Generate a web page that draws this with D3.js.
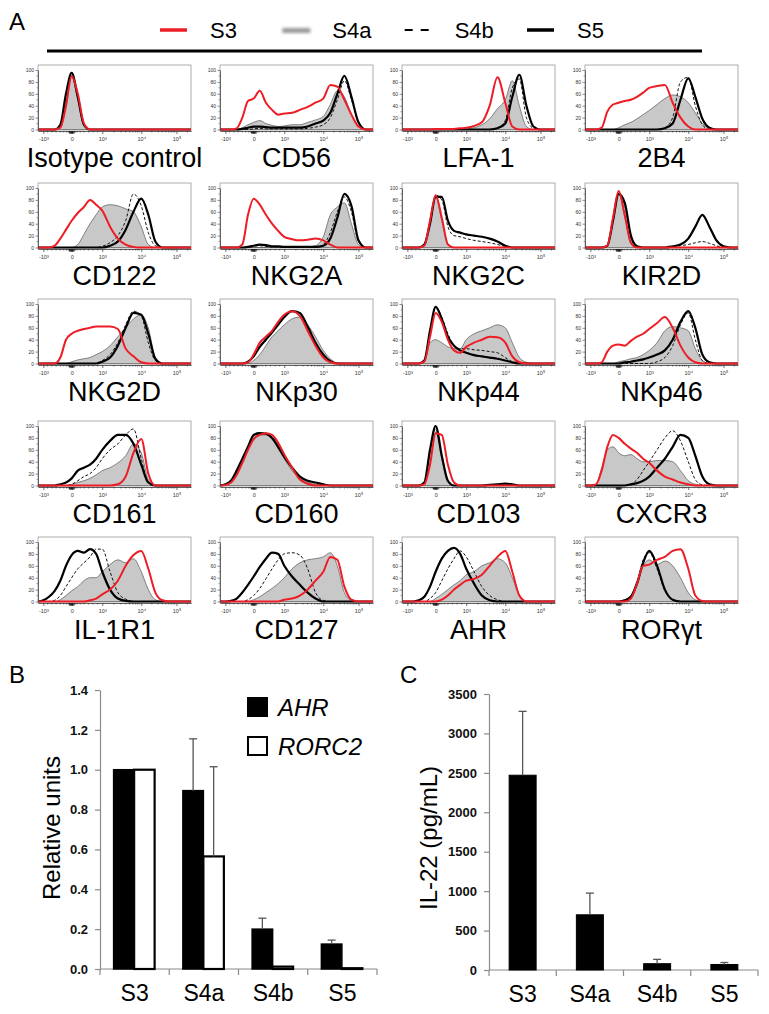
<!DOCTYPE html>
<html><head><meta charset="utf-8">
<script src="https://cdn.jsdelivr.net/npm/d3@7"></script>
<style>body{margin:0;background:#fff}svg{display:block}</style>
</head><body>
<svg id="fig" width="769" height="1014"></svg>
<script>
// ---------------- DATA ----------------
const groups = ["S3","S4a","S4b","S5"];
const markers = ["Isotype control","CD56","LFA-1","2B4","CD122","NKG2A","NKG2C","KIR2D",
  "NKG2D","NKp30","NKp44","NKp46","CD161","CD160","CD103","CXCR3","IL-1R1","CD127","AHR","RORγt"];
// display position (u) of each histogram bin: u=0 -> -10^3, 1 -> 0, 2 -> 10^3, 3 -> 10^4, 4 -> 10^5
const gridU = [-0.2,0,0.2,0.4,0.6,0.8,1.0,1.2,1.4,1.6,1.8,2.0,2.2,2.4,2.6,2.8,3.0,3.2,3.4,3.6,3.8,4.0,4.2,4.4];
const xTickU = [0,1,2,3,4];
const xTickLabels = ["-10³","0","10³","10⁴","10⁵"];
const xMinorU = [0.15,0.3,0.45,0.6,0.72,0.82,0.88,0.92,0.95,0.97,0.99,1.01,1.03,1.05,1.08,1.12,1.18,1.28,1.4,1.55,1.7,1.85,
  2.3,2.48,2.6,2.7,2.78,2.85,2.9,2.95,3.3,3.48,3.6,3.7,3.78,3.85,3.9,3.95,4.3];
const yTicks = [0,20,40,60,80,100];
const yMinor = [10,30,50,70,90];

const S3 = [
 [0,0,0,0, 3,40,90,60, 10,0,0,0, 0,0,0,0, 0,0,0,0, 0,0,0,0],
 [0,0,0,2, 20,48,52,65, 45,33,25,27, 28,33,38,45, 52,75,72,50, 25,5,0,0],
 [0,0,0,0, 0,0,1,1, 1,1,2,3, 6,12,40,88, 45,5,0,0, 0,0,0,0],
 [0,0,0,3, 30,42,45,48, 50,55,62,70, 73,75,45,20, 5,0,0,0, 0,0,0,0],
 [0,0,0,3, 15,30,45,58, 68,80,72,62, 35,15,5,1, 0,0,0,0, 0,0,0,0],
 [0,0,0,0, 5,55,82,72, 55,40,28,18, 14,12,13,15, 12,5,0,0, 0,0,0,0],
 [0,0,0,0, 3,45,88,50, 5,0,0,0, 0,0,0,0, 0,0,0,0, 0,0,0,0],
 [0,0,0,0, 3,50,95,55, 8,0,0,0, 0,0,0,0, 0,0,0,0, 0,0,0,0],
 [0,0,0,0, 10,40,50,55, 58,60,62,62, 62,58,25,12, 2,0,0,0, 0,0,0,0],
 [0,0,0,0, 0,2,15,35, 45,55,70,82, 88,80,55,30, 10,2,0,0, 0,0,0,0],
 [0,0,0,0, 3,45,85,70, 40,22,18,28, 35,40,45,44, 35,12,2,0, 0,0,0,0],
 [0,0,0,2, 20,30,32,30, 38,45,50,58, 68,78,60,30, 10,2,0,0, 0,0,0,0],
 [0,0,0,0, 0,0,0,0, 0,0,0,0, 0,2,15,55, 78,20,0,0, 0,0,0,0],
 [0,1,5,18, 38,60,78,85, 88,85,72,52, 30,10,3,0, 0,0,0,0, 0,0,0,0],
 [0,0,0,0, 2,35,88,85, 35,5,0,0, 0,0,0,0, 0,0,0,0, 0,0,0,0],
 [0,0,2,25, 65,85,80,70, 62,55,45,38, 25,15,10,5, 2,0,0,0, 0,0,0,0],
 [0,0,0,0, 0,0,0,0, 0,2,5,12, 20,35,60,78, 85,55,15,2, 0,0,0,0],
 [0,0,0,0, 0,0,0,0, 0,0,0,3, 5,10,20,35, 50,75,70,25, 3,0,0,0],
 [0,0,0,0, 0,0,0,3, 10,20,28,35, 38,45,60,75, 85,50,10,0, 0,0,0,0],
 [0,0,0,0, 0,0,0,0, 5,30,60,62, 70,75,85,88, 55,10,1,0, 0,0,0,0]
];
const S4a = [
 [0,0,0,0, 4,48,88,50, 6,0,0,0, 0,0,0,0, 0,0,0,0, 0,0,0,0],
 [0,0,0,0, 3,8,12,15, 10,7,5,6, 8,8,12,16, 22,42,65,55, 25,5,0,0],
 [0,0,0,0, 0,0,0,0, 0,0,0,1, 3,8,18,35, 50,82,40,5, 0,0,0,0],
 [0,0,0,0, 0,0,3,8, 12,18,25,32, 42,52,58,55, 45,28,10,2, 0,0,0,0],
 [0,0,0,0, 0,0,0,5, 22,40,55,68, 72,70,65,60, 35,5,0,0, 0,0,0,0],
 [0,0,0,0, 0,0,0,0, 0,0,0,0, 0,0,1,3, 18,55,68,75, 40,5,0,0],
 [0,0,0,0, 3,45,85,45, 5,0,0,0, 0,0,0,0, 0,0,0,0, 0,0,0,0],
 [0,0,0,0, 3,45,90,50, 6,0,0,0, 0,0,0,0, 0,0,0,0, 0,0,0,0],
 [0,0,0,0, 0,0,3,6, 8,10,15,20, 30,45,60,75, 82,60,10,0, 0,0,0,0],
 [0,0,0,0, 0,0,5,15, 30,45,55,65, 75,78,65,45, 22,8,1,0, 0,0,0,0],
 [0,0,0,0, 5,35,40,35, 28,25,25,40, 50,55,60,65, 60,35,10,2, 0,0,0,0],
 [0,0,0,0, 0,0,3,5, 8,10,15,22, 35,55,62,60, 55,25,5,0, 0,0,0,0],
 [0,0,0,0, 0,0,2,5, 8,12,18,25, 30,38,50,70, 55,10,0,0, 0,0,0,0],
 [0,1,6,22, 42,62,80,85, 85,78,62,45, 25,12,5,2, 0,0,0,0, 0,0,0,0],
 [0,0,0,0, 3,55,90,45, 5,0,0,0, 0,0,1,2, 3,2,0,0, 0,0,0,0],
 [0,0,2,30, 60,65,55,50, 52,45,40,40, 42,42,40,25, 8,2,0,0, 0,0,0,0],
 [0,0,0,0, 3,10,18,25, 35,40,40,50, 62,70,65,72, 50,20,3,0, 0,0,0,0],
 [0,0,0,0, 0,0,3,8, 15,22,30,40, 55,65,70,72, 75,82,60,15, 2,0,0,0],
 [0,0,0,0, 0,0,5,12, 20,28,35,45, 50,60,65,72, 65,40,10,0, 0,0,0,0],
 [0,0,0,0, 0,0,0,3, 10,35,60,70, 62,68,60,40, 15,3,0,0, 0,0,0,0]
];
const S4b = [
 [0,0,0,0, 8,58,95,55, 8,0,0,0, 0,0,0,0, 0,0,0,0, 0,0,0,0],
 [0,0,0,0, 0,0,1,2, 1,1,1,1, 1,1,2,4, 8,20,50,82, 50,12,0,0],
 [0,0,0,0, 0,0,0,0, 0,0,0,0, 0,0,0,3, 15,70,85,20, 2,0,0,0],
 [0,0,0,0, 0,0,0,0, 0,0,0,0, 0,3,20,80, 88,40,8,0, 0,0,0,0],
 [0,0,0,0, 0,0,0,0, 0,0,0,2, 8,20,45,90, 70,25,3,0, 0,0,0,0],
 [0,0,0,0, 0,0,2,3, 2,1,1,0, 0,0,0,0, 5,25,60,85, 60,10,0,0],
 [0,0,0,0, 5,42,88,80, 35,20,18,15, 12,10,8,5, 2,0,0,0, 0,0,0,0],
 [0,0,0,0, 3,45,90,70, 15,1,0,0, 0,0,1,3, 5,8,10,7, 3,0,0,0],
 [0,0,0,0, 0,0,0,0, 0,0,0,5, 15,35,65,88, 80,35,5,0, 0,0,0,0],
 [0,0,0,0, 0,3,14,30, 42,53,66,78, 88,84,60,33, 13,3,0,0, 0,0,0,0],
 [0,0,0,0, 5,55,95,78, 50,30,25,25, 23,22,20,18, 10,3,0,0, 0,0,0,0],
 [0,0,0,0, 0,0,0,0, 0,0,0,0, 3,10,30,65, 85,40,5,0, 0,0,0,0],
 [0,0,0,0, 0,0,2,8, 15,20,30,45, 60,70,85,95, 45,5,0,0, 0,0,0,0],
 [0,2,7,23, 44,64,83,87, 88,82,67,50, 32,16,8,4, 2,0,0,0, 0,0,0,0],
 [0,0,0,0, 5,58,95,50, 8,0,0,0, 0,0,1,2, 3,2,0,0, 0,0,0,0],
 [0,0,0,0, 0,0,0,0, 2,10,25,40, 60,80,92,75, 40,10,1,0, 0,0,0,0],
 [0,0,0,2, 10,25,40,55, 65,75,88,88, 50,15,4,0, 0,0,0,0, 0,0,0,0],
 [0,0,0,0, 0,3,10,22, 38,55,70,80, 82,78,55,15, 2,0,0,0, 0,0,0,0],
 [0,0,0,0, 0,5,15,35, 55,72,85,75, 50,25,10,3, 0,0,0,0, 0,0,0,0],
 [0,0,0,0, 0,0,0,0, 5,30,70,82, 55,18,3,0, 0,0,0,0, 0,0,0,0]
];
const S5 = [
 [0,0,0,0, 8,60,95,55, 8,0,0,0, 0,0,0,0, 0,0,0,0, 0,0,0,0],
 [0,0,0,0, 1,3,5,5, 4,3,3,3, 3,3,5,10, 15,28,60,90, 55,12,0,0],
 [0,0,0,0, 0,0,0,0, 0,0,0,0, 0,0,0,2, 10,55,92,40, 5,0,0,0],
 [0,0,0,0, 0,0,0,0, 0,0,0,0, 0,2,10,50, 86,55,18,3, 0,0,0,0],
 [0,0,0,0, 0,0,0,0, 0,0,0,0, 3,10,30,60, 82,55,10,0, 0,0,0,0],
 [0,0,0,0, 0,1,3,5, 4,2,2,1, 1,1,1,1, 3,15,50,90, 70,12,0,0],
 [0,0,0,0, 5,40,85,85, 45,28,25,22, 20,18,15,10, 3,0,0,0, 0,0,0,0],
 [0,0,0,0, 3,45,90,75, 20,2,0,0, 0,0,2,5, 15,35,55,35, 12,2,0,0],
 [0,0,0,0, 0,0,0,0, 0,0,0,3, 10,30,60,85, 82,50,8,0, 0,0,0,0],
 [0,0,0,0, 0,3,12,28, 40,52,65,78, 88,85,62,35, 15,4,0,0, 0,0,0,0],
 [0,0,0,0, 5,55,95,75, 45,30,22,18, 14,12,10,8, 5,2,0,0, 0,0,0,0],
 [0,0,0,0, 0,0,0,2, 3,5,7,10, 15,22,40,70, 88,60,15,2, 0,0,0,0],
 [0,0,0,0, 2,5,12,25, 30,35,45,60, 75,85,85,70, 35,5,0,0, 0,0,0,0],
 [0,2,8,25, 45,65,85,88, 87,80,65,48, 30,15,8,5, 2,0,0,0, 0,0,0,0],
 [0,0,0,0, 5,60,100,50, 8,0,0,0, 0,0,1,2, 3,2,0,0, 0,0,0,0],
 [0,0,0,0, 0,0,0,0, 2,4,8,15, 30,45,65,85, 80,50,15,2, 0,0,0,0],
 [0,2,8,18, 35,60,78,85, 82,88,80,50, 20,5,1,0, 0,0,0,0, 0,0,0,0],
 [0,0,1,5, 15,28,42,58, 72,82,80,60, 42,28,15,5, 0,0,0,0, 0,0,0,0],
 [0,0,0,2, 8,25,50,72, 85,90,80,55, 30,10,2,0, 0,0,0,0, 0,0,0,0],
 [0,0,0,0, 0,0,0,2, 8,30,65,85, 60,20,3,0, 0,0,0,0, 0,0,0,0]
];

// Panel B (qPCR, relative units)
const genes = ["AHR","RORC2"];
const ahrMean = [1.0, 0.895, 0.20, 0.125];
const ahrSD   = [0, 0.26, 0.055, 0.02];
const rorc2Mean = [1.0, 0.565, 0.012, 0.004];
const rorc2SD   = [0, 0.45, 0, 0];
const bTicks = [0,0.2,0.4,0.6,0.8,1.0,1.2,1.4];

// Panel C (IL-22 pg/mL)
const il22Mean = [2470, 700, 80, 70];
const il22SD   = [810, 275, 55, 25];
const cTicks = [0,500,1000,1500,2000,2500,3000,3500];

// ---------------- DRAW ----------------
const svg = d3.select("#fig");
const sans = "'Liberation Sans', Arial, sans-serif";
const RED = "#ee1c24";

svg.append("defs").append("filter").attr("id","blur").attr("x","-30%").attr("y","-100%").attr("width","160%").attr("height","300%")
  .append("feGaussianBlur").attr("stdDeviation",1.4);

// Panel labels
svg.append("text").attr("x",9).attr("y",30).style("font",`24px ${sans}`).text("A");
svg.append("text").attr("x",9).attr("y",683).style("font",`24px ${sans}`).text("B");
svg.append("text").attr("x",400).attr("y",683).style("font",`24px ${sans}`).text("C");

// Legend
const lx = d3.scalePoint().domain(groups).range([160, 527]);
const leg = svg.append("g");
groups.forEach(gname => {
  const x0 = lx(gname);
  if (gname === "S3") leg.append("line").attr("x1",x0).attr("x2",x0+27).attr("y1",30).attr("y2",30).attr("stroke",RED).attr("stroke-width",3.5);
  if (gname === "S4a") leg.append("rect").attr("x",x0).attr("y",28).attr("width",28).attr("height",5).attr("fill","#9a9a9a").attr("filter","url(#blur)");
  if (gname === "S4b") leg.append("line").attr("x1",x0).attr("x2",x0+26).attr("y1",30).attr("y2",30).attr("stroke","#000").attr("stroke-width",2.2).attr("stroke-dasharray","8,8");
  if (gname === "S5") leg.append("line").attr("x1",x0).attr("x2",x0+27).attr("y1",30).attr("y2",30).attr("stroke","#000").attr("stroke-width",3.5);
  leg.append("text").attr("x",x0+50).attr("y",38).style("font",`22px ${sans}`).text(gname);
});
svg.append("line").attr("x1",47).attr("x2",702).attr("y1",51).attr("y2",51).attr("stroke","#000").attr("stroke-width",3);

// Histograms
const colX = [38, 220, 402, 585], rowY = [65, 183, 299, 421, 537];
const pw = 153, ph = 66;
const x = d3.scaleLinear().domain([-0.2,0,1,2,3,4,4.4]).range([0,.035,.22,.42,.675,.905,1].map(f => f*pw));
const y = d3.scaleLinear().domain([0,100]).range([ph-1.5, 5]);
const line = d3.line().x((d,j) => x(gridU[j])).y(d => y(d)).curve(d3.curveMonotoneX);
const area = d3.area().x((d,j) => x(gridU[j])).y0(y(0)).y1(d => y(d)).curve(d3.curveMonotoneX);

markers.forEach((m, i) => {
  const g = svg.append("g").attr("transform", `translate(${colX[i%4]},${rowY[Math.floor(i/4)]})`);
  g.append("rect").attr("width",pw).attr("height",ph).attr("fill","none").attr("stroke","#999").attr("stroke-width",0.8);
  g.append("path").datum(S4a[i]).attr("d",area).attr("fill","#c8c8c8").attr("stroke","#555").attr("stroke-width",0.7);
  g.append("path").datum(S4b[i]).attr("d",line).attr("fill","none").attr("stroke","#111").attr("stroke-width",1).attr("stroke-dasharray","3,2");
  g.append("path").datum(S5[i]).attr("d",line).attr("fill","none").attr("stroke","#000").attr("stroke-width",2.2);
  g.append("path").datum(S3[i]).attr("d",line).attr("fill","none").attr("stroke",RED).attr("stroke-width",2);

  // y axis
  const ya = g.append("g").call(d3.axisLeft(y).tickValues(yTicks).tickSize(2.5).tickSizeOuter(0).tickPadding(1.5).tickFormat(d3.format("d")));
  ya.select(".domain").attr("stroke","#444").attr("stroke-width",0.8);
  ya.selectAll(".tick line").attr("stroke","#444").attr("stroke-width",0.6);
  ya.selectAll("text").style("font",`5px ${sans}`).attr("fill","#333");
  g.append("g").selectAll("line").data(yMinor).join("line")
    .attr("x1",-1.5).attr("x2",0).attr("y1",d=>y(d)).attr("y2",d=>y(d)).attr("stroke","#444").attr("stroke-width",0.5);

  // x axis
  const xa = g.append("g").attr("transform",`translate(0,${ph})`)
    .call(d3.axisBottom(x).tickValues(xTickU).tickSize(3).tickSizeOuter(0).tickPadding(3).tickFormat((d,k) => xTickLabels[k]));
  xa.select(".domain").attr("stroke","#444").attr("stroke-width",0.8);
  xa.selectAll(".tick line").attr("stroke","#333").attr("stroke-width",0.7);
  xa.selectAll("text").style("font",`5.5px ${sans}`).attr("fill","#333");
  g.append("g").attr("transform",`translate(0,${ph})`).selectAll("line").data(xMinorU).join("line")
    .attr("x1",d=>x(d)).attr("x2",d=>x(d)).attr("y1",0).attr("y2",d => Math.abs(d-1) < 0.1 ? 2.5 : 1.6)
    .attr("stroke","#222").attr("stroke-width",d => Math.abs(d-1) < 0.1 ? 1 : 0.5);

  g.append("text").attr("x",pw/2).attr("y",ph+36).attr("text-anchor","middle").style("font",`27px ${sans}`).text(m);
});

// Bar chart helper
function barPanel(opts) {
  const {x0, x1, yBottom, yTop, domainMax, ticks, fmt, series, label, labelX, labelY} = opts;
  const band = d3.scaleBand().domain(groups).range([x0, x1]);
  const yy = d3.scaleLinear().domain([0, domainMax]).range([yBottom, yTop]);
  const g = svg.append("g");
  const ax = g.append("g").attr("transform",`translate(${x0},0)`)
    .call(d3.axisLeft(yy).tickValues(ticks).tickSize(5).tickSizeOuter(0).tickPadding(7).tickFormat(fmt));
  ax.select(".domain").attr("stroke","#8a8a8a").attr("stroke-width",1.2);
  ax.selectAll(".tick line").attr("stroke","#8a8a8a").attr("stroke-width",1.2);
  ax.selectAll("text").attr("font-family",null).attr("font-size",null)
    .style("font",`bold 13px 'Liberation Sans', Arial, sans-serif`).attr("fill","#111");
  g.append("line").attr("x1",x0).attr("x2",x1).attr("y1",yBottom).attr("y2",yBottom).attr("stroke","#8a8a8a").attr("stroke-width",1.2);
  const bounds = groups.map(d => band(d)).concat([x1]);
  g.selectAll(".bt").data(bounds).join("line").attr("x1",d=>d).attr("x2",d=>d).attr("y1",yBottom).attr("y2",yBottom+6)
    .attr("stroke","#8a8a8a").attr("stroke-width",1.2);
  g.selectAll(".cl").data(groups).join("text").attr("x",d=>band(d)+band.bandwidth()/2).attr("y",yBottom+32)
    .attr("text-anchor","middle").style("font",`23px ${sans}`).text(d=>d);
  series.forEach(s => {
    const sx = d3.scaleBand().domain(series.map(q=>q.name)).range(s.span);
    groups.forEach((gname, k) => {
      const cx = band(gname) + band.bandwidth()/2;
      const bx = cx + sx(s.name);
      const bw = sx.bandwidth();
      g.append("rect").attr("x",bx).attr("y",yy(s.mean[k])).attr("width",bw).attr("height",Math.max(0.5, yBottom-yy(s.mean[k])))
        .attr("fill",s.fill).attr("stroke","#000").attr("stroke-width",s.sw);
      if (s.sd[k] > 0) {
        const ex = bx + bw/2;
        g.append("line").attr("x1",ex).attr("x2",ex).attr("y1",yy(s.mean[k])).attr("y2",yy(s.mean[k]+s.sd[k])).attr("stroke","#555").attr("stroke-width",1.3);
        g.append("line").attr("x1",ex-4).attr("x2",ex+4).attr("y1",yy(s.mean[k]+s.sd[k])).attr("y2",yy(s.mean[k]+s.sd[k])).attr("stroke","#555").attr("stroke-width",1.3);
      }
    });
  });
  g.append("text").attr("transform",`translate(${labelX},${labelY}) rotate(-90)`).attr("text-anchor","middle")
    .style("font",`24px ${sans}`).text(label);
  return {band, yy};
}

barPanel({x0:100, x1:377, yBottom:969, yTop:690, domainMax:1.4, ticks:bTicks, fmt:d3.format(".1f"),
  series:[{name:genes[0], mean:ahrMean, sd:ahrSD, fill:"#000", sw:1.5, span:[-21,20]},
          {name:genes[1], mean:rorc2Mean, sd:rorc2SD, fill:"#fff", sw:2.2, span:[-21,20]}],
  label:"Relative units", labelX:60, labelY:828});

barPanel({x0:489, x1:758, yBottom:970, yTop:694, domainMax:3500, ticks:cTicks, fmt:d3.format("d"),
  series:[{name:"IL-22", mean:il22Mean, sd:il22SD, fill:"#000", sw:1, span:[-13.5,13.5]}],
  label:"IL-22 (pg/mL)", labelX:437, labelY:838});

// Legend B
const lg = svg.append("g");
const legY = d3.scalePoint().domain(genes).range([707, 746]);
genes.forEach((gn, k) => {
  lg.append("rect").attr("x",248).attr("y",legY(gn)-9).attr("width",19).attr("height",18)
    .attr("fill", k===0 ? "#000" : "#fff").attr("stroke","#000").attr("stroke-width",2);
  lg.append("text").attr("x",278).attr("y",legY(gn)+9).style("font",`italic 24px ${sans}`).text(gn);
});
</script>
</body></html>
